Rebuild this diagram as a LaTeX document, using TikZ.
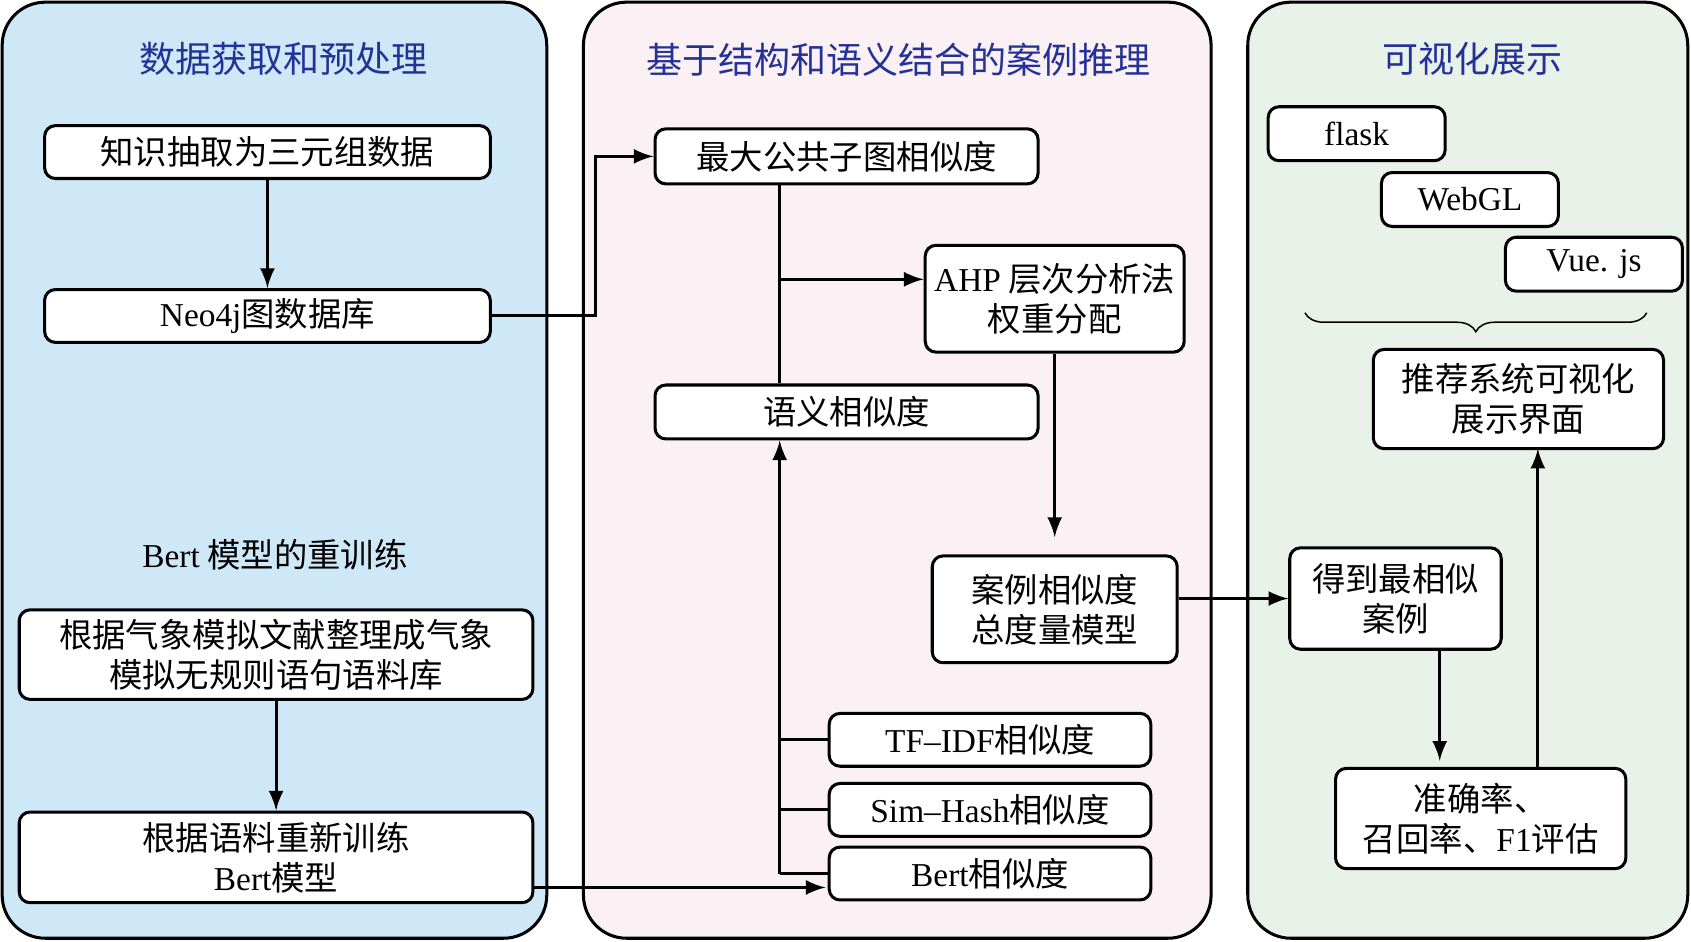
\documentclass[tikz,border=0pt]{standalone}
\usepackage{fontspec}
\setmainfont{Noto Sans CJK SC}
\newfontfamily\enfont{Liberation Serif}
\newcommand{\en}[1]{{\enfont #1}}
\usetikzlibrary{arrows,decorations.pathreplacing}
\definecolor{leftbg}{RGB}{206,232,248}
\definecolor{midbg}{RGB}{251,240,244}
\definecolor{rightbg}{RGB}{233,242,233}
\definecolor{titleblue}{RGB}{35,50,150}
\tikzset{
	panel/.style = {draw, thick, rounded corners=0.4cm},
	box/.style   = {draw, thick, fill=white, rectangle, rounded corners=0.1cm,
		align=center, inner sep=1pt, font=\fontsize{8.8}{10.5}\selectfont},
	title/.style = {text=titleblue, font=\fontsize{9.5}{12}\selectfont}
}
\begin{document}
\begin{tikzpicture}[x=0.01cm, y=-0.01cm, >=latex, thick]
	\useasboundingbox (0,0) rectangle (1568,873);
	% panels
	\draw[panel, fill=leftbg]  (2,2) rectangle (507,870);
	\draw[panel, fill=midbg]   (541,2) rectangle (1123,870);
	\draw[panel, fill=rightbg] (1157,2) rectangle (1565,870);
	\node[title] at (263,55)  (t1) {数据获取和预处理};
	\node[title] at (833,55)  (t2) {基于结构和语义结合的案例推理};
	\node[title] at (1365,55) (t3) {可视化展示};
	
	% left column
	\node[box, minimum width=4.13cm, minimum height=0.49cm] at (248,141) (k1) {知识抽取为三元组数据};
	\node[box, minimum width=4.13cm, minimum height=0.49cm] at (248,293) (neo) {\en{Neo4j}图数据库};
	\node[font=\fontsize{8.8}{10.5}\selectfont] at (255,514) (bl) {\en{Bert} 模型的重训练};
	\node[box, minimum width=4.76cm, minimum height=0.83cm] at (256,607) (c1) {根据气象模拟文献整理成气象\\模拟无规则语句语料库};
	\node[box, minimum width=4.76cm, minimum height=0.84cm] at (256,795) (c2) {根据语料重新训练\\\en{Bert}模型};
	
	% middle column
	\node[box, minimum width=3.55cm, minimum height=0.51cm] at (785,145) (m1) {最大公共子图相似度};
	\node[box, minimum width=2.40cm, minimum height=0.99cm] at (978,277) (ahp) {\en{AHP} 层次分析法\\权重分配};
	\node[box, minimum width=3.55cm, minimum height=0.50cm] at (785,382) (sem) {语义相似度};
	\node[box, minimum width=2.27cm, minimum height=0.99cm] at (978,565) (case) {案例相似度\\总度量模型};
	\node[box, minimum width=2.98cm, minimum height=0.49cm] at (918,686) (tf) {\en{TF–IDF}相似度};
	\node[box, minimum width=2.98cm, minimum height=0.49cm] at (918,751) (sim) {\en{Sim–Hash}相似度};
	\node[box, minimum width=2.98cm, minimum height=0.49cm] at (918,810) (bs) {\en{Bert}相似度};
	
	% right column
	\node[box, minimum width=1.64cm, minimum height=0.50cm] at (1258,124) (flask) {\en{flask}};
	\node[box, minimum width=1.64cm, minimum height=0.50cm] at (1363,185) (webgl) {\en{WebGL}};
	\node[box, minimum width=1.64cm, minimum height=0.50cm] at (1478,245) (vue) {\en{Vue. js}};
	\node[box, minimum width=2.69cm, minimum height=0.92cm] at (1408,370) (rec) {推荐系统可视化\\展示界面};
	\node[box, minimum width=1.96cm, minimum height=0.94cm] at (1294,555) (got) {得到最相似\\案例};
	\node[box, minimum width=2.69cm, minimum height=0.93cm] at (1373,759) (acc) {准确率、\\召回率、\en{F1}评估};
	\draw[thin, decorate, decoration={brace, mirror, amplitude=5pt}] (1210,290) -- (1527,290);
	
	% connectors
	\coordinate (j1) at (552,293);
	\coordinate (j2) at (723,259);
	\coordinate (j3) at (723,810);
	\draw[->] (k1) -- (neo);
	\draw[->] (neo.east) -- (j1) |- (m1.west);
	\draw (m1.south -| j2) -- (sem.north -| j2);
	\draw[->] (j2) -- (ahp.west |- j2);
	\draw[->] (ahp.south) -- ++(0,170);
	\draw[->] (case.east |- got.west) -- (got.west);
	\draw[->] (got.south -| acc.north west) ++(98,0) -- ++(0,102);
	\draw[->] (acc.north -| rec.south) ++(18,0) -- ++(0,-295);
	\draw[->] (c1) -- (c2);
	\draw[->] (c2.east |- bs.south) ++(0,-13) -- ++(270,0);
	\draw[->] (j3) -- (sem.south -| j3);
	\draw (tf.west) -- (tf.west -| j3);
	\draw (sim.west) -- (sim.west -| j3);
	\draw (bs.west) -- (j3);
\end{tikzpicture}
\end{document}
